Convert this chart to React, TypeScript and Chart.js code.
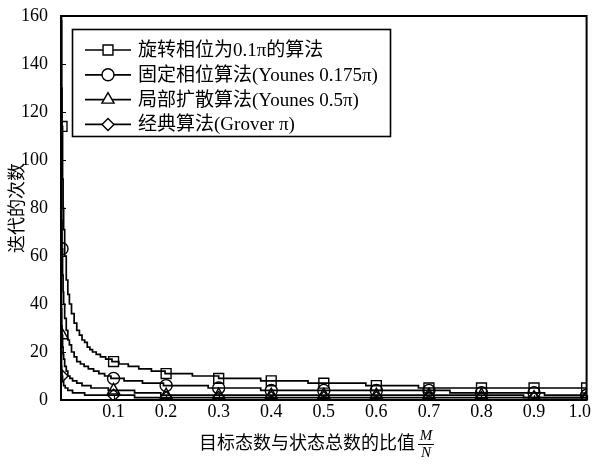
import React, { useEffect, useRef } from 'react';
import { Chart, registerables } from 'chart.js';
import { drawPoint } from 'chart.js/helpers';

Chart.register(...registerables);

// ---- data ----
const seriesLabels = [
  '旋转相位为0.1π的算法',
  '固定相位算法(Younes 0.175π)',
  '局部扩散算法(Younes 0.5π)',
  '经典算法(Grover π)',
];
const seriesPointStyles = ['rect', 'circle', 'triangle', 'rectRot'];
const seriesPointRadius = [7, 6, 7, 6];

const markerX = [0.002, 0.1, 0.2, 0.3, 0.4, 0.5, 0.6, 0.7, 0.8, 0.9, 1.0];
const squareMarkers = [114, 16, 11, 9, 8, 7, 6, 5, 5, 5, 5];
const circleMarkers = [63, 9, 6, 5, 4, 4, 4, 4, 3, 3, 2];
const triangleMarkers = [27, 4, 2, 2, 2, 2, 2, 2, 2, 1, 1];
const diamondMarkers = [10, 2, 1, 1, 1, 1, 1, 1, 1, 1, 1];

const squareX = [0.0005, 0.001, 0.0015, 0.002, 0.003, 0.004, 0.005, 0.007, 0.01, 0.013, 0.016, 0.02, 0.025, 0.03, 0.035, 0.04, 0.045, 0.05, 0.055, 0.06, 0.067, 0.075, 0.085, 0.097, 0.11, 0.128, 0.148, 0.172, 0.198, 0.25, 0.3, 0.38, 0.47, 0.58, 0.68, 1.0];
const squareY = [220, 158, 130, 114, 92, 80, 71, 60, 50, 44, 40, 36, 32, 29, 27, 25, 24, 22, 21, 20, 19, 18, 17, 16, 15, 14, 13, 12, 11, 10, 9, 8, 7, 6, 5, 5];

const circleX = [0.0005, 0.001, 0.0015, 0.002, 0.003, 0.004, 0.005, 0.007, 0.01, 0.013, 0.016, 0.02, 0.025, 0.03, 0.037, 0.044, 0.052, 0.062, 0.072, 0.083, 0.095, 0.12, 0.155, 0.195, 0.28, 0.38, 0.74, 0.92, 1.0];
const circleY = [130, 92, 75, 63, 52, 45, 40, 34, 29, 25, 23, 20, 18, 16, 15, 14, 13, 12, 11, 10, 9, 8, 7, 6, 5, 4, 3, 2, 2];

const triangleX = [0.0005, 0.001, 0.0015, 0.002, 0.003, 0.004, 0.005, 0.007, 0.01, 0.013, 0.017, 0.022, 0.03, 0.04, 0.057, 0.09, 0.14, 0.19, 0.88, 1.0];
const triangleY = [55, 38, 31, 27, 22, 19, 17, 14, 12, 10, 9, 8, 7, 6, 5, 4, 3, 2, 1, 1];

const diamondX = [0.0005, 0.001, 0.0015, 0.002, 0.003, 0.005, 0.008, 0.013, 0.022, 0.045, 0.14, 1.0];
const diamondY = [20, 14, 12, 10, 8, 6, 5, 4, 3, 2, 1, 1];

const yTickValues = [0, 20, 40, 60, 80, 100, 120, 140, 160];
const xTickValues = [0.1, 0.2, 0.3, 0.4, 0.5, 0.6, 0.7, 0.8, 0.9, 1.0];
const xTickLabels = ['0.1', '0.2', '0.3', '0.4', '0.5', '0.6', '0.7', '0.8', '0.9', '1.0'];

const xTitle = '目标态数与状态总数的比值';
const xTitleNum = 'M';
const xTitleDen = 'N';
const yTitle = '迭代的次数';

const LATIN = '"Liberation Serif"';
const MIXED = '"Liberation Serif", "Noto Sans CJK SC"';

const lineXs = [squareX, circleX, triangleX, diamondX];
const lineYs = [squareY, circleY, triangleY, diamondY];
const markerYs = [squareMarkers, circleMarkers, triangleMarkers, diamondMarkers];

const decorPlugin = {
  id: 'decor',
  afterDatasetsDraw(chart: any) {
    const { ctx, chartArea: a, scales } = chart;
    const xs = scales.x;
    const ys = scales.y;
    ctx.save();
    ctx.strokeStyle = '#000';
    ctx.fillStyle = '#000';

    // frame
    ctx.lineWidth = 2;
    ctx.strokeRect(a.left, a.top, a.right - a.left, a.bottom - a.top);

    // inward ticks
    ctx.lineWidth = 1.2;
    ctx.beginPath();
    yTickValues.forEach((v) => {
      const py = Math.round(ys.getPixelForValue(v)) + 0.5;
      ctx.moveTo(a.left, py);
      ctx.lineTo(a.left + 5, py);
    });
    xTickValues.forEach((v) => {
      const px = Math.round(xs.getPixelForValue(v)) + 0.5;
      ctx.moveTo(px, a.bottom);
      ctx.lineTo(px, a.bottom - 5);
    });
    ctx.stroke();

    // x tick labels
    ctx.font = `18px ${LATIN}`;
    ctx.textAlign = 'center';
    ctx.textBaseline = 'middle';
    xTickLabels.forEach((t, i) => {
      let px = xs.getPixelForValue(xTickValues[i]);
      const w = ctx.measureText(t).width;
      px = Math.min(px, chart.width - 4 - w / 2);
      ctx.fillText(t, px, a.bottom + 12);
    });

    // x title with fraction
    ctx.font = `18px "Noto Sans CJK SC"`;
    ctx.textAlign = 'left';
    const tw = ctx.measureText(xTitle).width;
    const tx = 199;
    ctx.fillText(xTitle, tx, a.bottom + 42);
    const fx = tx + tw + 11;
    ctx.font = `italic 15px ${LATIN}`;
    ctx.textAlign = 'center';
    ctx.fillText(xTitleNum, fx, a.bottom + 36);
    ctx.fillText(xTitleDen, fx, a.bottom + 53);
    ctx.lineWidth = 1;
    ctx.beginPath();
    ctx.moveTo(fx - 8, a.bottom + 44.5);
    ctx.lineTo(fx + 8, a.bottom + 44.5);
    ctx.stroke();

    // y title
    ctx.save();
    ctx.translate(16, (a.top + a.bottom) / 2);
    ctx.rotate(-Math.PI / 2);
    ctx.font = `18px "Noto Sans CJK SC"`;
    ctx.textAlign = 'center';
    ctx.textBaseline = 'middle';
    ctx.fillText(yTitle, 0, 0);
    ctx.restore();

    // legend
    const bx = 72.5, by = 29.5, bw = 318, bh = 107;
    ctx.fillStyle = '#fff';
    ctx.fillRect(bx, by, bw, bh);
    ctx.lineWidth = 1.6;
    ctx.strokeRect(bx, by, bw, bh);
    ctx.font = `19px ${MIXED}`;
    ctx.textAlign = 'left';
    ctx.textBaseline = 'middle';
    seriesLabels.forEach((label, i) => {
      const y = 50 + i * 24.8;
      ctx.strokeStyle = '#000';
      ctx.lineWidth = 1.7;
      ctx.beginPath();
      ctx.moveTo(85, y);
      ctx.lineTo(131, y);
      ctx.stroke();
      ctx.fillStyle = '#fff';
      ctx.lineWidth = 1.4;
      drawPoint(ctx, { pointStyle: seriesPointStyles[i], radius: seriesPointRadius[i], borderWidth: 1.4, rotation: 0 } as any, 108, y);
      ctx.fillStyle = '#000';
      ctx.fillText(label, 138, y + 1);
    });

    ctx.restore();
  },
};

export default function App() {
  const ref = useRef<HTMLCanvasElement | null>(null);
  useEffect(() => {
    document.body.style.margin = '0';
    const canvas = ref.current;
    if (!canvas) return;
    const datasets: any[] = [];
    seriesLabels.forEach((label, i) => {
      datasets.push({
        label,
        data: lineXs[i].map((x, j) => ({ x, y: lineYs[i][j] })),
        borderColor: '#000',
        borderWidth: 1.7,
        pointRadius: 0,
        stepped: true,
        fill: false,
      });
      datasets.push({
        label: label + ' markers',
        data: markerX.map((x, j) => ({ x, y: markerYs[i][j] })),
        showLine: false,
        pointStyle: seriesPointStyles[i],
        pointRadius: seriesPointRadius[i],
        pointBorderColor: '#000',
        pointBackgroundColor: 'rgba(0,0,0,0)',
        pointBorderWidth: 1.4,
      });
    });
    const chart = new Chart(canvas, {
      type: 'line',
      data: { datasets },
      plugins: [decorPlugin],
      options: {
        animation: false,
        responsive: false,
        maintainAspectRatio: false,
        layout: { padding: { top: 16, right: 8, left: 0, bottom: 0 } },
        plugins: { legend: { display: false }, tooltip: { enabled: false } },
        scales: {
          x: {
            type: 'linear',
            min: 0,
            max: 1,
            grid: { display: false },
            border: { display: false },
            ticks: { display: false },
            afterFit: (s: any) => {
              s.height = 66;
              s.paddingLeft = 0;
              s.paddingRight = 0;
            },
          },
          y: {
            type: 'linear',
            min: 0,
            max: 160,
            grid: { display: false },
            border: { display: false },
            ticks: {
              stepSize: 20,
              padding: 5,
              color: '#000',
              font: { family: 'Liberation Serif', size: 18 },
            },
            afterFit: (s: any) => {
              s.width = 61;
              s.paddingTop = 0;
              s.paddingBottom = 0;
            },
          },
        },
      },
    });
    return () => chart.destroy();
  }, []);
  return (
    <div style={{ width: 595, height: 466 }}>
      <canvas ref={ref} width={595} height={466} style={{ display: 'block' }} />
    </div>
  );
}
